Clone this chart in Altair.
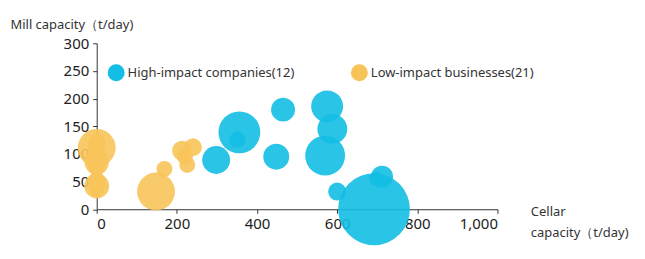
import altair as alt
import pandas as pd

# High-impact companies (12): cellar capacity, mill capacity, bubble value
high_cellar = [356, 298, 448, 465, 575, 588, 570, 692, 600, 712, 697, 351]
high_mill = [139, 89, 95, 180, 186, 145, 97, 0, 32, 59, 55, 126]
high_value = [441, 196, 169, 144, 256, 225, 400, 1296, 81, 121, 49, 64]

# Low-impact businesses (21)
low_cellar = [0, 0, 0, 0, 0, 0, 0, 0, 0, 0, 0, 0, 0, 0, 0,
              148, 169, 213, 240, 226, 220]
low_mill = [111, 84, 84, 42, 41, 90, 100, 50, 75, 120, 35, 60, 95, 110, 45,
            32, 73, 106, 112, 80, 95]
low_value = [361, 144, 49, 156, 36, 100, 81, 81, 64, 81, 49, 36, 49, 64, 64,
             361, 64, 100, 81, 64, 64]

groups = ["High-impact companies(12)", "Low-impact businesses(21)"]
colors = ["#12BEE3", "#F8C45A"]

rows = []
for x, y, v in zip(low_cellar, low_mill, low_value):
    rows.append({"cellar": x, "mill": y, "v": v, "group": groups[1], "o": 0})
for x, y, v in zip(high_cellar, high_mill, high_value):
    rows.append({"cellar": x, "mill": y, "v": v, "group": groups[0], "o": 1})
df = pd.DataFrame(rows)

FONT = "Noto Sans"

chart = alt.Chart(df).mark_circle(opacity=0.9, clip=False).encode(
    x=alt.X("cellar:Q",
            scale=alt.Scale(domain=[0, 1000], nice=False),
            axis=alt.Axis(values=[0, 200, 400, 600, 800, 1000], format=",d",
                          title=["Cellar", "capacity（t/day)"], titleAngle=0,
                          titleAlign="left", titleBaseline="alphabetic",
                          titleX=435, titleY=6, titleLineHeight=21,
                          titleFontSize=13, titleFontWeight="normal",
                          titleColor="#333", grid=False, tickSize=4,
                          labelFontSize=15, labelColor="#222", labelPadding=3,
                          domainColor="#333", tickColor="#333")),
    y=alt.Y("mill:Q",
            scale=alt.Scale(domain=[0, 300], nice=False),
            axis=alt.Axis(values=[0, 50, 100, 150, 200, 250, 300],
                          title="Mill capacity（t/day)", titleAngle=0,
                          titleAlign="left", titleBaseline="alphabetic",
                          titleX=-87, titleY=-15, titleFontSize=13,
                          titleFontWeight="normal", titleColor="#333",
                          grid=False, tickSize=4, labelFontSize=15,
                          labelColor="#222", labelPadding=4,
                          domainColor="#333", tickColor="#333")),
    size=alt.Size("v:Q", scale=alt.Scale(domain=[0, 1300], range=[0, 5200]),
                  legend=None),
    color=alt.Color("group:N", scale=alt.Scale(domain=groups, range=colors),
                    legend=alt.Legend(orient="none", legendX=10, legendY=20,
                                      direction="horizontal", title=None,
                                      symbolType="circle", symbolSize=289,
                                      symbolOpacity=1, labelFontSize=13,
                                      labelColor="#333", labelOffset=2,
                                      labelLimit=400,
                                      columnPadding=55, padding=0)),
    order=alt.Order("o:Q"),
).properties(
    width=402, height=166.5,
    autosize=alt.AutoSizeParams(type="none"),
    padding={"left": 89, "top": 35, "right": 140, "bottom": 40},
).configure(font=FONT).configure_view(stroke=None)

chart.save("out.html", embed_options={"renderer": "svg", "actions": False})
